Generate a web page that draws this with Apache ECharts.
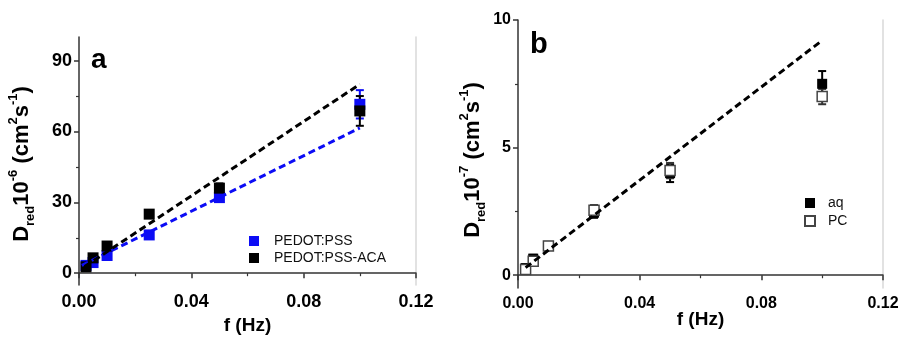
<!DOCTYPE html>
<html>
<head>
<meta charset="utf-8">
<script src="https://cdn.jsdelivr.net/npm/echarts@6/dist/echarts.min.js"></script>
<style>
  html, body { margin: 0; padding: 0; background: #fff; }
  #chart { width: 903px; height: 340px; }
</style>
</head>
<body>
<div id="chart"></div>
<script>
// panel a
const freqA = [0.0025, 0.005, 0.01, 0.025, 0.05, 0.1];
const pssVals = [3.3, 4.5, 7.5, 16.2, 32, 71.5];
const pssErr = [0.8, 0.8, 1, 1.2, 1.5, 6];
const acaVals = [2.7, 6.5, 11.5, 25, 36, 68.7];
const acaErr = [0.8, 1, 1.5, 1.5, 2, 6.3];
const pssFitX = [0.001, 0.1];
const pssFitY = [3.3, 61.5];
const acaFitX = [0.002, 0.1];
const acaFitY = [2.8, 80];
const ticksA = [0, 30, 60, 90];
const minorA = [15, 45, 75];

// panel b
const freqB = [0.0025, 0.005, 0.01, 0.025, 0.05, 0.1];
const aqVals = [0.28, 0.65, 1.15, 2.45, 4.0, 7.5];
const aqErr = [0.15, 0.15, 0.15, 0.2, 0.35, 0.5];
const pcVals = [0.22, 0.55, 1.15, 2.55, 4.1, 7.0];
const pcErr = [0.15, 0.15, 0.15, 0.2, 0.3, 0.3];
const fitBX = [0.0025, 0.1];
const fitBY = [0.3, 9.2];
const ticksB = [0, 5, 10];
const minorB = [2.5, 7.5];

const BLUE = '#0c0cf5';
const BLACK = '#000';
const AXIS = '#333';

const pairs = (xs, ys) => xs.map((x, i) => [x, ys[i]]);
const errData = (xs, ys, es) => xs.map((x, i) => [x, ys[i] - es[i], ys[i] + es[i]]);

const renderErr = (color) => (params, api) => {
    const x = api.value(0);
    const lo = api.coord([x, api.value(1)]);
    const hi = api.coord([x, api.value(2)]);
    const w = 4;
    const style = { stroke: color, lineWidth: 2 };
    return {
        type: 'group',
        children: [
            { type: 'line', shape: { x1: lo[0], y1: lo[1], x2: hi[0], y2: hi[1] }, style },
            { type: 'line', shape: { x1: lo[0] - w, y1: lo[1], x2: lo[0] + w, y2: lo[1] }, style },
            { type: 'line', shape: { x1: hi[0] - w, y1: hi[1], x2: hi[0] + w, y2: hi[1] }, style }
        ]
    };
};

const xAxisOf = (grid, fontSize, nameGap) => ({
    type: 'value', gridIndex: grid, min: 0, max: 0.12, interval: 0.04,
    name: 'f (Hz)', nameLocation: 'middle', nameGap: nameGap, nameMoveOverlap: false,
    nameTextStyle: { fontFamily: 'Liberation Sans', fontWeight: 'bold', fontSize: 19, color: '#000' },
    axisLine: { lineStyle: { color: AXIS, width: 1.5 } },
    axisTick: { length: 5, lineStyle: { color: AXIS, width: 1.5 } },
    minorTick: { show: true, splitNumber: 2, length: 3, lineStyle: { color: AXIS, width: 1.2 } },
    axisLabel: {
        margin: 8, color: '#000', fontFamily: 'Liberation Sans', fontWeight: 'bold', fontSize: fontSize,
        formatter: (v) => v.toFixed(2)
    },
    splitLine: { show: false }
});

const yAxesOf = (grid, min, max, ticks, minor, fontSize) => [
    {
        type: 'value', gridIndex: grid, min: min, max: max, position: 'left',
        axisLine: { show: true, lineStyle: { color: AXIS, width: 1.5 } },
        axisTick: { show: true, length: 5, customValues: ticks, lineStyle: { color: AXIS, width: 1.5 } },
        axisLabel: {
            customValues: ticks, margin: 7, color: '#000',
            fontFamily: 'Liberation Sans', fontWeight: 'bold', fontSize: fontSize
        },
        splitLine: { show: false }
    },
    {
        type: 'value', gridIndex: grid, min: min, max: max, position: 'left',
        axisLine: { show: false },
        axisTick: { show: true, length: 3, customValues: minor, lineStyle: { color: AXIS, width: 1.2 } },
        axisLabel: { show: false },
        splitLine: { show: false }
    },
    {
        type: 'value', gridIndex: grid, min: min, max: max, position: 'right',
        axisLine: { show: true, lineStyle: { color: '#d8d8d8', width: 1.5 } },
        axisTick: { show: false },
        axisLabel: { show: false },
        splitLine: { show: false }
    }
];

const yNameRich = {
    b: { fontFamily: 'Liberation Sans', fontWeight: 'bold', fontSize: 22, lineHeight: 30, fill: '#000' },
    sub: { fontFamily: 'Liberation Sans', fontWeight: 'bold', fontSize: 13, lineHeight: 14, verticalAlign: 'bottom', fill: '#000' },
    sup: { fontFamily: 'Liberation Sans', fontWeight: 'bold', fontSize: 13, lineHeight: 14, verticalAlign: 'top', fill: '#000' }
};
const yName = (exp) => '{b|D}{sub|red}{b|10}{sup|' + exp + '}{b| (cm}{sup|2}{b|s}{sup|-1}{b|)}';

const chart = echarts.init(document.getElementById('chart'), null, { renderer: 'canvas' });

chart.setOption({
    animation: false,
    backgroundColor: '#fff',
    grid: [
        { left: 79, right: 487, top: 37, bottom: 55 },
        { left: 518, right: 20, top: 20, bottom: 52 }
    ],
    xAxis: [xAxisOf(0, 18, 31), xAxisOf(1, 16, 22)],
    yAxis: [].concat(yAxesOf(0, -5, 100, ticksA, minorA, 18), yAxesOf(1, -0.5, 10, ticksB, minorB, 16)),
    legend: [
        {
            data: ['PEDOT:PSS', 'PEDOT:PSS-ACA'], orient: 'vertical', left: 244, top: 229,
            icon: 'rect', itemWidth: 10, itemHeight: 10, itemGap: 3,
            textStyle: { fontFamily: 'Liberation Sans', fontSize: 14, color: '#111', padding: [0, 0, 0, 10] }
        },
        {
            data: ['aq', 'PC'], orient: 'vertical', left: 799, top: 191,
            icon: 'rect', itemWidth: 10, itemHeight: 10, itemGap: 4,
            textStyle: { fontFamily: 'Liberation Sans', fontSize: 14, color: '#111', padding: [0, 0, 0, 8] }
        }
    ],
    graphic: [
        { type: 'text', left: 91, top: 46, style: { text: 'a', font: 'bold 28px "Liberation Sans"', fill: '#000' } },
        { type: 'text', left: 530, top: 30, style: { text: 'b', font: 'bold 29px "Liberation Sans"', fill: '#000' } },
        {
            type: 'text', x: 22, y: 164, rotation: Math.PI / 2,
            style: { text: yName('-6'), rich: yNameRich, align: 'center', verticalAlign: 'middle' }
        },
        {
            type: 'text', x: 473, y: 160, rotation: Math.PI / 2,
            style: { text: yName('-7'), rich: yNameRich, align: 'center', verticalAlign: 'middle' }
        }
    ],
    series: [
        {
            name: 'fitPSS', type: 'line', xAxisIndex: 0, yAxisIndex: 0, data: pairs(pssFitX, pssFitY),
            symbol: 'none', lineStyle: { color: BLUE, width: 3, type: [7, 4] }
        },
        {
            name: 'fitACA', type: 'line', xAxisIndex: 0, yAxisIndex: 0, data: pairs(acaFitX, acaFitY),
            symbol: 'none', lineStyle: { color: BLACK, width: 3, type: [7, 4] }
        },
        {
            name: 'PEDOT:PSS', type: 'scatter', xAxisIndex: 0, yAxisIndex: 0, data: pairs(freqA, pssVals),
            symbol: 'rect', symbolSize: 11, itemStyle: { color: BLUE, opacity: 1 }
        },
        {
            name: 'PEDOT:PSS-ACA', type: 'scatter', xAxisIndex: 0, yAxisIndex: 0, data: pairs(freqA, acaVals),
            symbol: 'rect', symbolSize: 11, itemStyle: { color: BLACK, opacity: 1 }
        },
        {
            type: 'custom', xAxisIndex: 0, yAxisIndex: 0, data: errData(freqA, pssVals, pssErr),
            encode: { x: 0, y: [1, 2] }, renderItem: renderErr(BLUE)
        },
        {
            type: 'custom', xAxisIndex: 0, yAxisIndex: 0, data: errData(freqA, acaVals, acaErr),
            encode: { x: 0, y: [1, 2] }, renderItem: renderErr(BLACK)
        },
        {
            name: 'fitB', type: 'line', xAxisIndex: 1, yAxisIndex: 3, data: pairs(fitBX, fitBY),
            symbol: 'none', lineStyle: { color: BLACK, width: 3, type: [7, 4] }
        },
        {
            name: 'aq', type: 'scatter', xAxisIndex: 1, yAxisIndex: 3, data: pairs(freqB, aqVals),
            symbol: 'rect', symbolSize: 10, itemStyle: { color: BLACK, opacity: 1 }
        },
        {
            name: 'PC', type: 'scatter', xAxisIndex: 1, yAxisIndex: 3, data: pairs(freqB, pcVals),
            symbol: 'rect', symbolSize: 10,
            itemStyle: { color: '#fff', borderColor: '#444', borderWidth: 1.5, opacity: 1 }
        },
        {
            type: 'custom', xAxisIndex: 1, yAxisIndex: 3, data: errData(freqB, aqVals, aqErr),
            encode: { x: 0, y: [1, 2] }, renderItem: renderErr(BLACK)
        },
        {
            type: 'custom', xAxisIndex: 1, yAxisIndex: 3, data: errData(freqB, pcVals, pcErr),
            encode: { x: 0, y: [1, 2] }, renderItem: renderErr('#333')
        }
    ]
});
</script>
</body>
</html>
